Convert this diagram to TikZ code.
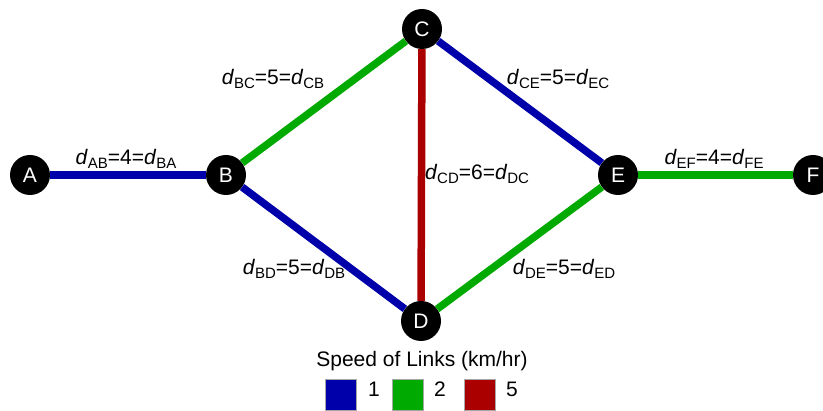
\documentclass[tikz,border=0pt]{standalone}
\usepackage{fontspec}
\setmainfont{Liberation Sans}

\definecolor{linkone}{RGB}{0,0,170}
\definecolor{linktwo}{RGB}{0,170,0}
\definecolor{linkfive}{RGB}{170,0,0}

\tikzset{town/.style={circle,fill=black,text=white,minimum size=40pt,
    inner sep=0pt,font=\fontsize{21}{21}\selectfont}}
\tikzset{linkA/.style={line width=7.5pt,draw=linkone}}
\tikzset{linkB/.style={line width=7.5pt,draw=linktwo}}
\tikzset{linkC/.style={line width=7.5pt,draw=linkfive}}
\tikzset{dist/.style={anchor=base,inner sep=0pt,
    font=\fontsize{21}{21}\selectfont}}
\tikzset{keybox/.style={draw=gray!70,fill=#1,minimum size=31pt,inner sep=0pt}}

\newcommand{\dsub}[1]{\raisebox{-4pt}{\fontsize{15}{15}\selectfont #1}}
\newcommand{\dlab}[3]{\textit{d}\dsub{#1}=#3=\textit{d}\dsub{#2}}

\begin{document}
\begin{tikzpicture}[x=1pt,y=-1pt]

\useasboundingbox (0,0) rectangle (823,411);

% ノード
\node[town] (A) at (30,175) {A};
\node[town] (B) at (226,175) {B};
\node[town] (C) at (422,29) {C};
\node[town] (D) at (421,321) {D};
\node[town] (E) at (618,175) {E};
\node[town] (F) at (813,175) {F};

% リンク
\draw[linkA] (A) -- (B);
\draw[linkB] (B) -- (C);
\draw[linkA] (B) -- (D);
\draw[linkC] (C) -- (D);
\draw[linkA] (C) -- (E);
\draw[linkB] (D) -- (E);
\draw[linkB] (E) -- (F);

% 距離
\node[dist] (lAB) at (126,165) {\dlab{AB}{BA}{4}};
\node[dist] (lBC) at (273,85) {\dlab{BC}{CB}{5}};
\node[dist] (lBD) at (294,275) {\dlab{BD}{DB}{5}};
\node[dist] (lCD) at (477,180) {\dlab{CD}{DC}{6}};
\node[dist] (lCE) at (558,85) {\dlab{CE}{EC}{5}};
\node[dist] (lDE) at (564,275) {\dlab{DE}{ED}{5}};
\node[dist] (lEF) at (714,165) {\dlab{EF}{FE}{4}};

% 凡例
\node[dist] (title) at (422,367) {Speed of Links (km/hr)};
\node[keybox=linkone] (k1) at (341,395) {};
\node[dist] (t1) at (374,397) {1};
\node[keybox=linktwo] (k2) at (408,395) {};
\node[dist] (t2) at (440,397) {2};
\node[keybox=linkfive] (k5) at (480,395) {};
\node[dist] (t5) at (512,397) {5};

\end{tikzpicture}
\end{document}
